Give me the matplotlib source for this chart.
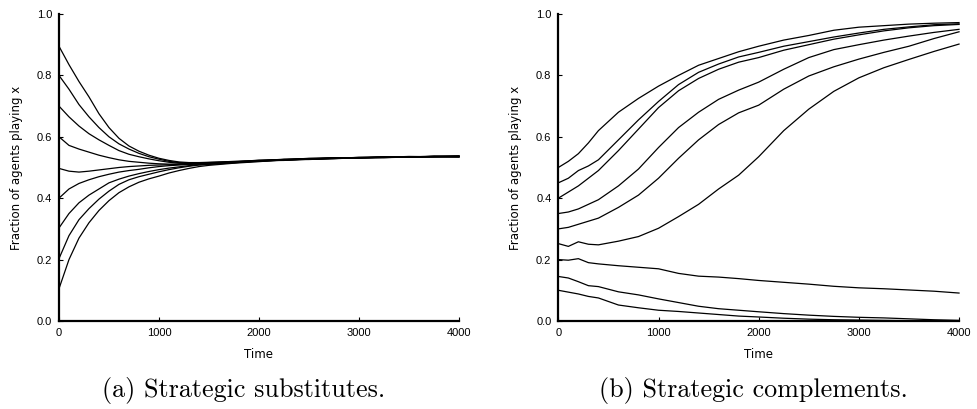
"""Fraction of agents playing x over time: substitutes vs complements."""
import matplotlib
matplotlib.use("Agg")
import matplotlib.pyplot as plt

# --- (a) strategic substitutes: time grid and one run per start value ---
t_sub = [0, 100, 200, 300, 400, 500, 600, 700, 800, 900, 1000, 1100, 1200,
         1300, 1400, 1500, 1750, 2000, 2250, 2500, 2750, 3000, 3250, 3500,
         3750, 4000]

sub_90 = [0.895, 0.835, 0.78, 0.73, 0.675, 0.63, 0.595, 0.57, 0.553, 0.54, 0.53,
          0.523, 0.518, 0.516, 0.516, 0.517, 0.519, 0.523, 0.526, 0.528, 0.531,
          0.532, 0.534, 0.535, 0.536, 0.537]
sub_80 = [0.80, 0.755, 0.705, 0.665, 0.63, 0.60, 0.577, 0.56, 0.546, 0.535, 0.527,
          0.52, 0.516, 0.514, 0.515, 0.516, 0.52, 0.522, 0.527, 0.529, 0.53,
          0.533, 0.535, 0.534, 0.537, 0.538]
sub_70 = [0.70, 0.665, 0.635, 0.61, 0.59, 0.572, 0.555, 0.543, 0.535, 0.528, 0.522,
          0.517, 0.514, 0.513, 0.514, 0.515, 0.518, 0.524, 0.525, 0.53, 0.532,
          0.531, 0.533, 0.536, 0.535, 0.536]
sub_60 = [0.60, 0.572, 0.56, 0.55, 0.54, 0.532, 0.525, 0.52, 0.517, 0.514, 0.512,
          0.511, 0.511, 0.512, 0.513, 0.514, 0.517, 0.521, 0.526, 0.527, 0.529,
          0.533, 0.532, 0.534, 0.536, 0.535]
sub_50 = [0.497, 0.488, 0.485, 0.488, 0.492, 0.496, 0.50, 0.503, 0.505, 0.507,
          0.508, 0.509, 0.51, 0.511, 0.512, 0.513, 0.518, 0.522, 0.524, 0.528,
          0.53, 0.531, 0.534, 0.533, 0.535, 0.534]
sub_40 = [0.40, 0.43, 0.448, 0.46, 0.47, 0.478, 0.485, 0.49, 0.494, 0.499, 0.503,
          0.506, 0.508, 0.51, 0.511, 0.512, 0.516, 0.521, 0.525, 0.527, 0.531,
          0.532, 0.533, 0.535, 0.534, 0.536]
sub_30 = [0.303, 0.35, 0.385, 0.41, 0.43, 0.45, 0.462, 0.472, 0.48, 0.487, 0.493,
          0.498, 0.502, 0.506, 0.509, 0.511, 0.517, 0.52, 0.524, 0.528, 0.529,
          0.531, 0.534, 0.533, 0.536, 0.535]
sub_20 = [0.203, 0.278, 0.33, 0.366, 0.397, 0.423, 0.445, 0.46, 0.47, 0.478, 0.486,
          0.493, 0.499, 0.504, 0.508, 0.51, 0.515, 0.522, 0.523, 0.527, 0.53,
          0.532, 0.532, 0.535, 0.535, 0.537]
sub_10 = [0.105, 0.2, 0.27, 0.32, 0.36, 0.392, 0.418, 0.437, 0.452, 0.463, 0.472,
          0.482, 0.49, 0.497, 0.503, 0.507, 0.514, 0.519, 0.525, 0.526, 0.529,
          0.531, 0.533, 0.534, 0.536, 0.535]

# --- (b) strategic complements ---
t_comp = [0, 100, 200, 300, 400, 600, 800, 1000, 1200, 1400, 1600, 1800, 2000,
          2250, 2500, 2750, 3000, 3250, 3500, 3750, 4000]

comp_50 = [0.50, 0.52, 0.545, 0.58, 0.62, 0.68, 0.725, 0.765, 0.80, 0.833, 0.855,
           0.877, 0.895, 0.915, 0.93, 0.947, 0.957, 0.962, 0.967, 0.97, 0.972]
comp_45 = [0.45, 0.465, 0.49, 0.505, 0.525, 0.59, 0.655, 0.715, 0.77, 0.81, 0.837,
           0.86, 0.875, 0.895, 0.91, 0.925, 0.938, 0.95, 0.958, 0.965, 0.968]
comp_40 = [0.40, 0.42, 0.44, 0.465, 0.49, 0.555, 0.625, 0.695, 0.75, 0.79, 0.82,
           0.843, 0.858, 0.882, 0.90, 0.918, 0.932, 0.945, 0.955, 0.962, 0.966]
comp_35 = [0.35, 0.355, 0.365, 0.38, 0.395, 0.44, 0.495, 0.565, 0.63, 0.68, 0.722,
           0.752, 0.778, 0.82, 0.858, 0.884, 0.90, 0.915, 0.928, 0.94, 0.95]
comp_30 = [0.30, 0.305, 0.315, 0.325, 0.335, 0.37, 0.41, 0.465, 0.53, 0.59, 0.64,
           0.678, 0.703, 0.755, 0.798, 0.828, 0.853, 0.875, 0.895, 0.92, 0.942]
comp_25 = [0.252, 0.243, 0.258, 0.25, 0.248, 0.26, 0.275, 0.302, 0.34, 0.38, 0.43,
           0.475, 0.535, 0.62, 0.69, 0.748, 0.792, 0.825, 0.852, 0.878, 0.902]
comp_20 = [0.20, 0.198, 0.203, 0.19, 0.186, 0.18, 0.175, 0.17, 0.155, 0.146, 0.143,
           0.138, 0.132, 0.126, 0.12, 0.113, 0.108, 0.105, 0.101, 0.097, 0.091]
comp_15 = [0.145, 0.14, 0.128, 0.115, 0.112, 0.095, 0.085, 0.072, 0.06, 0.048, 0.04,
           0.035, 0.03, 0.024, 0.019, 0.015, 0.012, 0.01, 0.007, 0.004, 0.002]
comp_10 = [0.10, 0.094, 0.088, 0.08, 0.075, 0.052, 0.043, 0.035, 0.031, 0.026,
           0.021, 0.016, 0.013, 0.009, 0.006, 0.004, 0.003, 0.002, 0.001, 0.0, 0.0]

x_ticks = [0, 1000, 2000, 3000, 4000]
y_ticks = [0.0, 0.2, 0.4, 0.6, 0.8, 1.0]

TICK_FONT = "Liberation Sans"
LABEL_FONT = "DejaVu Sans"


def style_axes(ax):
    for side in ("top", "right"):
        ax.spines[side].set_visible(False)
    for side in ("left", "bottom"):
        ax.spines[side].set_linewidth(1.6)
    ax.set_xlim(0, 4000)
    ax.set_ylim(0, 1.0)
    ax.set_xticks(x_ticks)
    ax.set_yticks(y_ticks)
    ax.set_yticklabels([f"{v:.1f}" for v in y_ticks])
    ax.tick_params(direction="in", length=3, width=0.8, labelsize=8, pad=5)
    for lab in ax.get_xticklabels() + ax.get_yticklabels():
        lab.set_family(TICK_FONT)
    ax.set_xlabel("Time", fontsize=8.5, family=LABEL_FONT, labelpad=7)
    ax.set_ylabel("Fraction of agents playing x", fontsize=8.5,
                  family=LABEL_FONT, labelpad=10)


fig = plt.figure(figsize=(9.78, 4.09), dpi=100)
ax_a = fig.add_axes([0.0603, 0.2152, 0.409, 0.7506])
ax_b = fig.add_axes([0.5709, 0.2152, 0.4097, 0.7506])

for series in (sub_90, sub_80, sub_70, sub_60, sub_50,
               sub_40, sub_30, sub_20, sub_10):
    ax_a.plot(t_sub, series, color="black", lw=0.9, clip_on=False)

for series in (comp_50, comp_45, comp_40, comp_35, comp_30,
               comp_25, comp_20, comp_15, comp_10):
    ax_b.plot(t_comp, series, color="black", lw=0.9, clip_on=False)

style_axes(ax_a)
style_axes(ax_b)

fig.text(0.249, 0.030, "(a) Strategic substitutes.", ha="center", va="baseline",
         fontsize=18.8, family="cmr10")
fig.text(0.770, 0.030, "(b) Strategic complements.", ha="center", va="baseline",
         fontsize=18.8, family="cmr10")

fig.savefig("out.png", dpi=100)
